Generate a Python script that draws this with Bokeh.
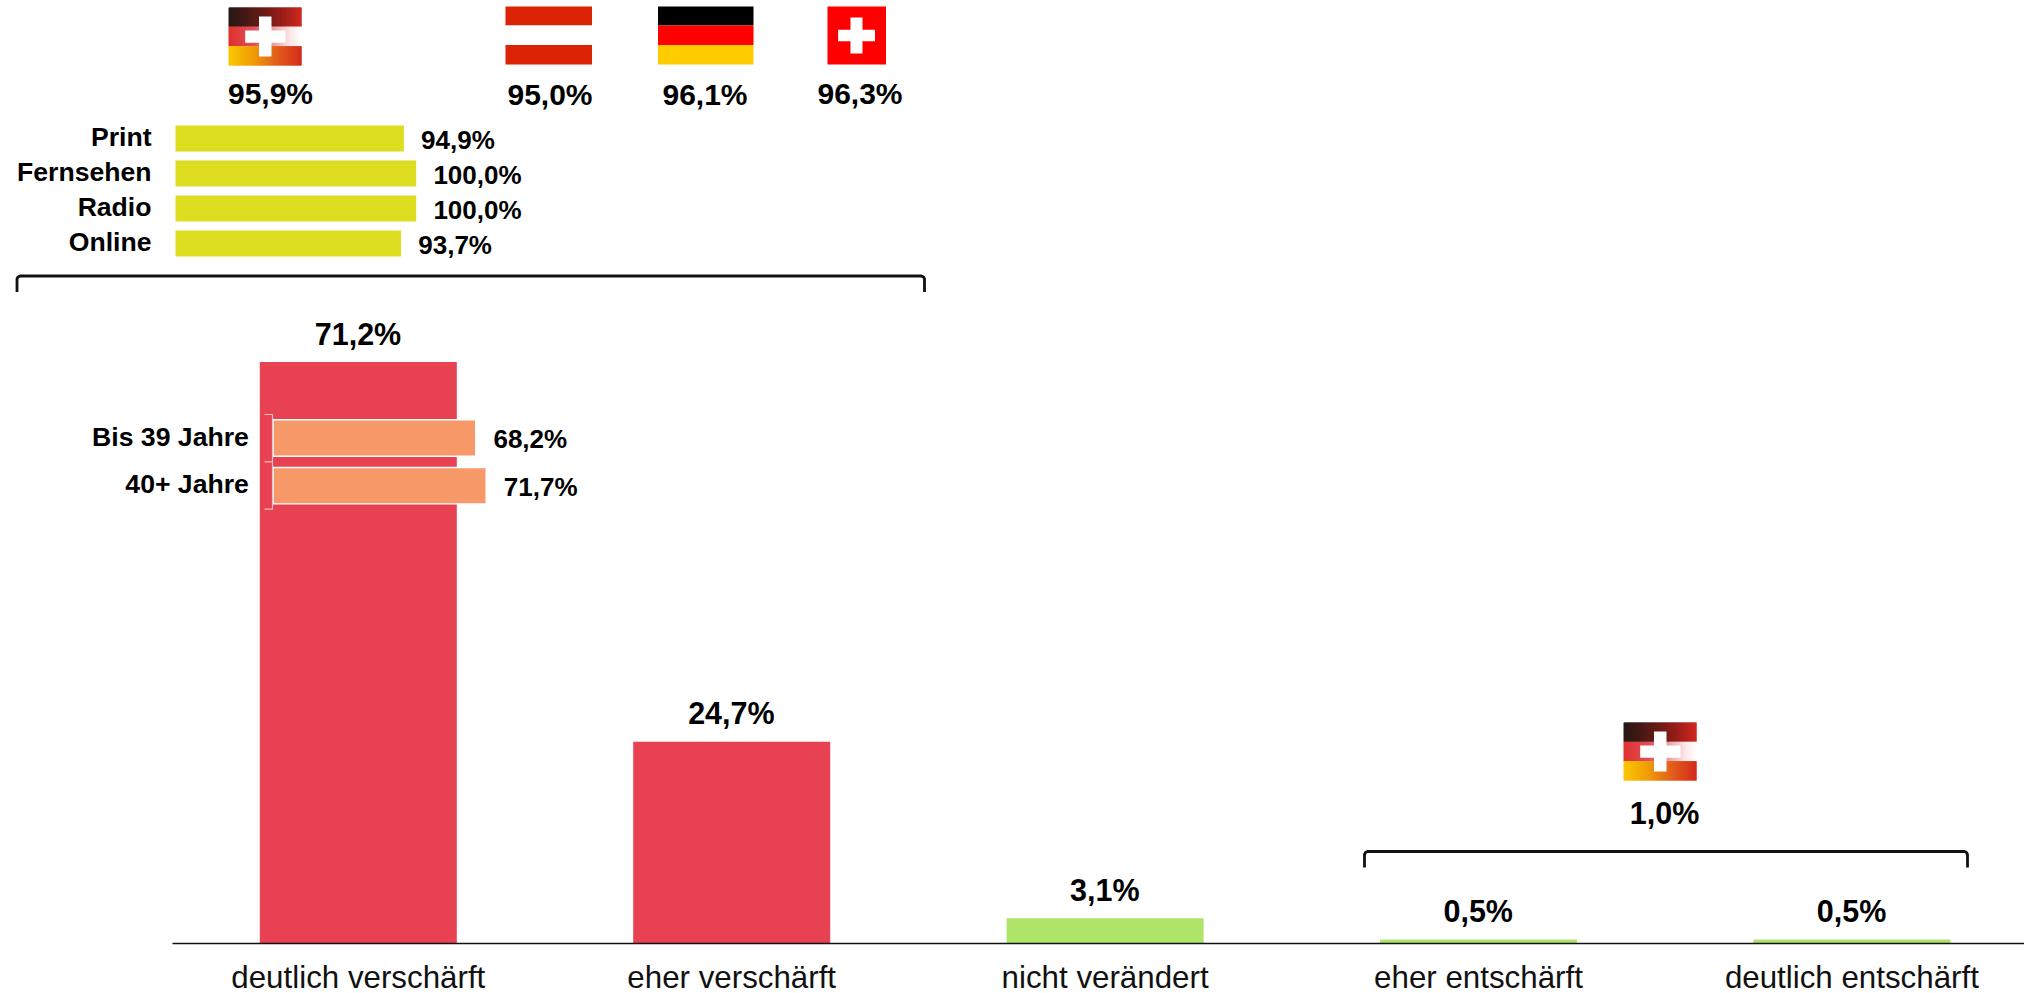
from bokeh.embed import file_html
from bokeh.resources import INLINE
from bokeh.plotting import figure
from bokeh.models import Range1d, FixedTicker
from bokeh.core.properties import value

# ---- data ----
categories = ["deutlich verschärft", "eher verschärft", "nicht verändert", "eher entschärft", "deutlich entschärft"]
shares = [71.2, 24.7, 3.1, 0.5, 0.5]
media_names = ["Print", "Fernsehen", "Radio", "Online"]
media_values = [94.9, 100.0, 100.0, 93.7]
age_names = ["Bis 39 Jahre", "40+ Jahre"]
age_values = [68.2, 71.7]
country_values = [95.9, 95.0, 96.1, 96.3]
relaxed_total = 1.0

RED, GREEN, YELLOW, ORANGE = "#E84152", "#AEE568", "#DEDE20", "#F79868"
FONT = value("Liberation Sans")
W, H, BASE = 2024, 993, 943


def pct(v):
    return f"{v:.1f}%".replace(".", ",")


PX_PER_PCT = 8.167
STEP = 373.4
CX0 = 357.8
p = figure(width=W, height=H, output_backend="svg", toolbar_location=None,
           x_range=Range1d(-CX0 / STEP, (W - CX0) / STEP),
           y_range=Range1d(-(H - BASE) / PX_PER_PCT, BASE / PX_PER_PCT),
           y_axis_location=None, min_border_left=0, min_border_right=0,
           min_border_top=0, min_border_bottom=0,
           outline_line_color=None, background_fill_color="white", border_fill_color="white")
p.grid.visible = False

p.extra_x_ranges["px"] = Range1d(0, W)
p.extra_y_ranges["px"] = Range1d(H, 0)
p.extra_x_ranges["media"] = Range1d(-175 / 2.407, (W - 175) / 2.407)
p.extra_y_ranges["media_rows"] = Range1d((H - 138) / 35, -138 / 35)
p.extra_x_ranges["age"] = Range1d(-272.7 / 2.97, (W - 272.7) / 2.97)
p.extra_y_ranges["age_rows"] = Range1d((H - 437.5) / 47.7, -437.5 / 47.7)

# axis
ax = p.xaxis[0]
ax.fixed_location = 0
ax.ticker = FixedTicker(ticks=list(range(5)))
ax.major_label_overrides = {i: c for i, c in enumerate(categories)}
ax.bounds = ((172 - CX0) / STEP, (W - CX0) / STEP)
ax.major_tick_line_color = None
ax.minor_tick_line_color = None
ax.axis_line_color = "#111111"
ax.axis_line_width = 1.4
ax.major_label_text_font = "Liberation Sans"
ax.major_label_text_font_size = "31.3px"
ax.major_label_text_color = "#111111"
ax.major_label_standoff = 10


def labels(x, y, text, size, style="bold", align="center", xo=0, yo=0, **kw):
    p.text(x=x, y=y, text=text, text_font=FONT, text_font_size=value(size), text_font_style=style,
           text_align=align, text_baseline="middle", text_color="#000000", x_offset=xo, y_offset=yo, **kw)


PX = dict(x_range_name="px", y_range_name="px")
BIG, SMALL, VALS = "30.5px", "26.6px", "26px"

# main bars
idx = list(range(5))
p.vbar(x=idx, bottom=0, top=shares, width=197 / STEP,
       color=[RED, RED, GREEN, GREEN, GREEN], line_color=None)
labels(idx, shares, [pct(v) for v in shares], BIG, xo=-0.3, yo=-28.5)

# age overlay
AGE = dict(x_range_name="age", y_range_name="age_rows")
p.hbar(y=[0, 1], left=0, right=age_values, height=36.4 / 47.7, fill_color=ORANGE,
       line_color="#ffffff", line_width=1.4, **AGE)
labels([0, 0], [0, 1], age_names, SMALL, align="right", xo=-24.4, yo=-1.5, **AGE)
labels(age_values, [0, 1], [pct(v) for v in age_values], VALS, align="left", xo=17.7, yo=1, **AGE)
p.multi_line(xs=[[264, 272, 272, 264], [264, 272]], ys=[[414, 414, 508.7, 508.7], [461.3, 461.3]],
             line_color="#F6BFC0", line_width=1.2, **PX)

# media overlay
MED = dict(x_range_name="media", y_range_name="media_rows")
rows = list(range(4))
p.hbar(y=rows, left=0, right=media_values, height=26 / 35, color=YELLOW, line_color=None, **MED)
labels([0] * 4, rows, media_names, SMALL, align="right", xo=-24, yo=-2, **MED)
labels(media_values, rows, [pct(v) for v in media_values], VALS, align="left", xo=17.2, yo=1, **MED)

# brackets
for x0, x1, y0, y1 in [(16.5, 924, 275.5, 291.5), (1364, 1967, 851, 867)]:
    p.line(x=[x0, x0, x0 + 1, x0 + 3, x1 - 3, x1 - 1, x1, x1],
           y=[y1, y0 + 3, y0 + 1, y0, y0, y0 + 1, y0 + 3, y1],
           line_color="#111111", line_width=2.8, line_join="round", **PX)


# flags
def blend(stops, t):
    for (a, ca), (b, cb) in zip(stops, stops[1:]):
        if t <= b:
            f = (t - a) / (b - a)
            return "#%02x%02x%02x" % tuple(round(u + (v - u) * f) for u, v in zip(ca, cb))
    return "#%02x%02x%02x" % stops[-1][1]


TOP = [(0, (0x23, 0x18, 0x15)), (0.4, (0x5e, 0x1a, 0x15)), (0.7, (0x92, 0x1c, 0x18)), (1, (0xd2, 0x28, 0x1f))]
MID = [(0, (0xe0, 0x30, 0x2c)), (0.35, (0xe0, 0x50, 0x5c)), (0.6, (0xea, 0x9a, 0xa0)), (0.85, (0xfd, 0xe8, 0xe8)), (1, (0xff, 0xff, 0xff))]
LOW = [(0, (0xfb, 0xc7, 0x00)), (0.35, (0xf0, 0x9a, 0x08)), (0.65, (0xe4, 0x60, 0x1a)), (1, (0xd3, 0x2a, 0x1c))]


def fused_flag(x, y):
    w, h = 73, 58
    l, r, t, b, c = [], [], [], [], []
    for k, stops in enumerate((TOP, MID, LOW)):
        for i in range(0, w):
            l.append(x + i); r.append(min(x + i + 2, x + w))
            t.append(y + k * 19.33); b.append(y + (k + 1) * 19.33)
            c.append(blend(stops, (i + 0.5) / w))
    p.quad(left=l, right=r, top=t, bottom=b, color=c, line_color=None, **PX)
    p.quad(left=[x + 30.5, x + 16.7], right=[x + 43, x + 57], top=[y + 9, y + 23], bottom=[y + 49, y + 35.3],
           color="#ffffff", line_color=None, **PX)


fused_flag(228, 7)
fused_flag(1623, 722)


def stripes(x0, x1, cols):
    edges = [6, 25, 44.4, 64]
    p.quad(left=[x0] * 3, right=[x1] * 3, top=edges[:3], bottom=edges[1:], color=cols, line_color=None, **PX)


stripes(505, 591.5, ["#DC2305", "#ffffff", "#DC2305"])
stripes(657.5, 753, ["#000000", "#FF0000", "#FFCC00"])
p.quad(left=[827], right=[885.5], top=[6], bottom=[64], color="#FF0000", line_color=None, **PX)
p.quad(left=[850, 837.6], right=[862, 874.5], top=[17, 29.3], bottom=[53, 40.7], color="#ffffff", line_color=None, **PX)

labels([270, 549.5, 704.5, 859.5], [93, 94, 94, 93], [pct(v) for v in country_values], "30px", **PX)
labels([1664], [812], [pct(relaxed_total)], BIG, **PX)

open("out.html", "w").write(file_html(p, INLINE))
